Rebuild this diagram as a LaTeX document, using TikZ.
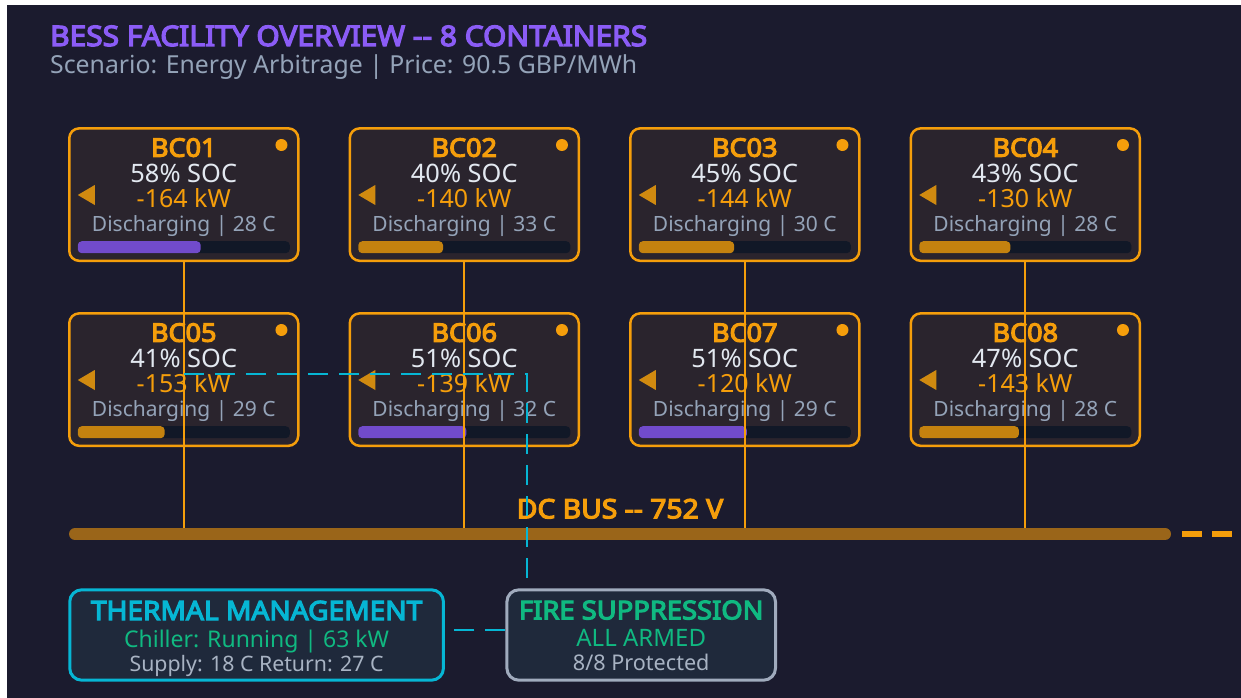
\documentclass[tikz,border=0pt]{standalone}
\usepackage{fontspec}
\setmainfont{Noto Sans}[BoldFont={Noto Sans},BoldFeatures={FakeBold=4.5,FakeStretch=1.06}]
\usetikzlibrary{calc}
\definecolor{bg}{HTML}{1B1B2E}
\definecolor{titlepurple}{HTML}{8B5CF6}
\definecolor{greytxt}{HTML}{94A3B8}
\definecolor{lighttxt}{HTML}{A8B3C3}
\definecolor{soctxt}{HTML}{E2E8F0}
\definecolor{amber}{HTML}{F59E0B}
\definecolor{cfill}{HTML}{2A242D}
\definecolor{tri}{HTML}{D08A10}
\definecolor{track}{HTML}{111827}
\definecolor{barpurple}{HTML}{714BCB}
\definecolor{barorange}{HTML}{C4820F}
\definecolor{busc}{HTML}{9A6519}
\definecolor{cyanc}{HTML}{06B6D4}
\definecolor{greenc}{HTML}{10B981}
\definecolor{panelfill}{HTML}{1F293B}
\definecolor{fireborder}{HTML}{A0ABBD}
\newcommand\fs[1]{\fontsize{#1}{#1}\selectfont}
\newcommand\bessbox[8]{%
  \node[cbox] (#1) at (#2,#3) {};
  \node[txt,font=\fs{25.5}\bfseries,text=amber] (#1-id) at ({#2},{#3-37.9}) {#4};
  \node[txt,font=\fs{25.4},text=soctxt] (#1-soc) at ({#2},{#3-11.9}) {#5\% SOC};
  \node[txt,font=\fs{25},text=amber] (#1-kw) at ({#2},{#3+12.7}) {#6 kW};
  \node[txt,font=\fs{21},text=greytxt] (#1-st) at ({#2},{#3+36.4}) {Discharging | #7 C};
  \fill[amber] ({#2+97.7},{#3-49.6}) circle (6pt);
  \fill[tri] ({#2-106},{#3+0.4}) -- ({#2-89},{#3-9.6}) -- ({#2-89},{#3+10.4}) -- cycle;
  \fill[track,rounded corners=4pt] ({#2-106},{#3+46.6}) rectangle ({#2+106},{#3+58.6});
  \fill[#8,rounded corners=4pt] ({#2-106},{#3+46.6}) rectangle ({#2-106+2.12*#5},{#3+58.6});
}
\begin{document}
\begin{tikzpicture}[x=1pt,y=-1pt,
  txt/.style={inner sep=0pt,anchor=base},
  cbox/.style={draw=amber,line width=2.5pt,fill=cfill,rounded corners=10pt,
    minimum width=229pt,minimum height=132.5pt,inner sep=0pt},
  panel/.style={fill=panelfill,line width=3pt,rounded corners=12pt,inner sep=0pt},
  feed/.style={draw=amber,line width=2.2pt},
  cyandash/.style={draw=cyanc,line width=2.6pt,dash pattern=on 20pt off 11pt}]
\useasboundingbox (0,0) rectangle (1241,698);
\fill[white] (0,0) rectangle (1241,698);
\fill[bg] (7,5) rectangle (1241,698);

\node[txt,anchor=base west,text=titlepurple,font=\fs{28.2}\bfseries] (title) at (50,46) {BESS FACILITY OVERVIEW -{}- 8 CONTAINERS};
\node[txt,anchor=base west,text=greytxt,font=\fs{24.8}] (subtitle) at (50,73.3) {Scenario: Energy Arbitrage | Price: 90.5 GBP/MWh};

\bessbox{c1}{183.75}{194.6}{BC01}{58}{-164}{28}{barpurple}
\bessbox{c2}{464.25}{194.6}{BC02}{40}{-140}{33}{barorange}
\bessbox{c3}{744.75}{194.6}{BC03}{45}{-144}{30}{barorange}
\bessbox{c4}{1025.25}{194.6}{BC04}{43}{-130}{28}{barorange}
\bessbox{c5}{183.75}{379.6}{BC05}{41}{-153}{29}{barorange}
\bessbox{c6}{464.25}{379.6}{BC06}{51}{-139}{32}{barpurple}
\bessbox{c7}{744.75}{379.6}{BC07}{51}{-120}{29}{barpurple}
\bessbox{c8}{1025.25}{379.6}{BC08}{47}{-143}{28}{barorange}

\coordinate (bus) at (620,534);
\coordinate (busL) at (75,534);
\coordinate (busR) at (1165,534);
\foreach \i in {1,2,3,4} \draw[feed] (c\i.south) -- (c\i.south |- bus);
\draw[busc,line width=12pt,line cap=round] (busL) -- (busR);
\coordinate (busdash) at (1182,534);
\draw[amber,line width=6pt,dash pattern=on 20pt off 10pt] (busdash) -- (busdash -| 1250,0);
\node[txt,font=\fs{26.7}\bfseries,text=amber] (buslabel) at (620,518.3) {DC BUS -{}- 752 V};

\node[panel,draw=cyanc,minimum width=373.7pt,minimum height=90.4pt] (thermal) at (256.6,635) {};
\node[txt,font=\fs{26.5}\bfseries,text=cyanc] (th1) at (256.6,620) {THERMAL MANAGEMENT};
\node[txt,font=\fs{23},text=greenc] (th2) at (256.6,647.3) {Chiller: Running | 63 kW};
\node[txt,font=\fs{21.3},text=lighttxt] (th3) at (256.6,671.7) {Supply: 18 C Return: 27 C};

\node[panel,draw=fireborder,minimum width=268.6pt,minimum height=90.4pt] (fire) at (641.2,635) {};
\node[txt,font=\fs{25.8}\bfseries,text=greenc] (fi1) at (641.2,619.3) {FIRE SUPPRESSION};
\node[txt,font=\fs{24},text=greenc] (fi2) at (641.2,646.7) {ALL ARMED};
\node[txt,font=\fs{21.6},text=lighttxt] (fi3) at (641.2,670.7) {8/8 Protected};

\coordinate (cyA) at (184,374);
\coordinate (cyB) at (527,374);
\draw[cyandash] (cyA) -- (cyB) -- (cyB |- fire.north);
\coordinate (tf) at ($(fire.west)+(0,-5)$);
\draw[cyandash] (tf) -- (tf -| thermal.east);
\end{tikzpicture}
\end{document}
